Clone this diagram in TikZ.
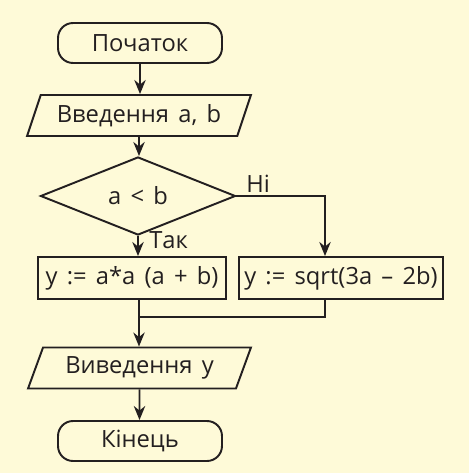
\documentclass[tikz,border=0pt]{standalone}
\usepackage{fontspec}
\setmainfont{Open Sans}[WordSpace=1.5]
\usepackage{xcolor}
\usetikzlibrary{shapes.geometric,arrows.meta,calc}

\definecolor{paper}{HTML}{FEFAD8}
\definecolor{ink}{HTML}{231F20}

\tikzset{
  box/.style={draw=ink, line width=1.1pt, fill=paper, text=ink, font=\fontsize{13.5}{16}\selectfont, inner sep=0pt},
  terminal/.style={box, rounded corners=0.3cm, minimum width=3.28cm, minimum height=0.8cm},
  inout/.style={box, trapezium, trapezium left angle=63, trapezium right angle=117, trapezium stretches=true, minimum width=4.48cm, minimum height=0.82cm},
  process/.style={box, rectangle, minimum height=0.84cm},
  decision/.style={box, diamond, minimum width=3.9cm, minimum height=1.26cm},
  flow/.style={draw=ink, line width=1.1pt, -{Stealth[length=8pt,width=6.5pt]}},
  line/.style={draw=ink, line width=1.1pt},
  answer/.style={text=ink, font=\fontsize{13.5}{16}\selectfont, inner sep=0pt}
}

\begin{document}
\begin{tikzpicture}[x=0.02cm, y=-0.02cm]
% Background
\fill[paper] (0,0) rectangle (469,473);
\useasboundingbox (0,0) rectangle (469,473);

% Blocks
\node[terminal] (start) at (140,43) {Початок};
\node[inout] (input) at (139,115.5) {Введення a, b};
\node[decision] (cmp) at (138,196) {a < b};
\node[process, minimum width=3.76cm] (yes) at (132,278) {y := a*a (a + b)};
\node[process, minimum width=4.08cm] (no) at (341,278) {y := sqrt(3a – 2b)};
\node[inout] (output) at (139.5,368) {Виведення y};
\node[terminal] (stop) at (140,441) {Кінець};

% Joints
\coordinate (nobend) at (325,196);
\coordinate (merge) at (139,317);

% Connectors
\draw[flow] (start) -- (start |- input.north);
\draw[flow] (input) -- (input |- cmp.north);
\draw[flow] (cmp.south) -- (cmp.south |- yes.north);
\draw[flow] (cmp.east) -| (nobend |- no.north);
\draw[line] (yes.south -| merge) -- (merge);
\draw[line] (no.south -| nobend) |- (merge);
\draw[flow] (merge) -- (merge |- output.north);
\draw[flow] (output) -- (output |- stop.north);

% Answers
\node[answer, anchor=south west] (nolabel) at (246,193) {Ні};
\node[answer, anchor=west] (yeslabel) at (149,240) {Так};
\end{tikzpicture}
\end{document}
